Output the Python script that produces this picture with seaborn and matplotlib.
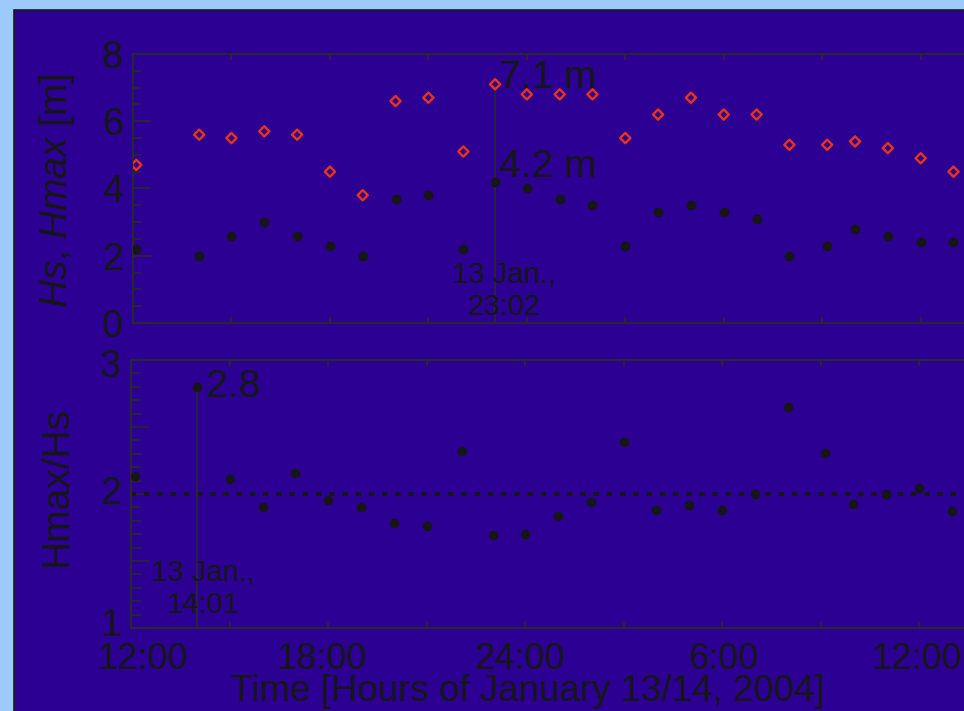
import numpy as np
import pandas as pd
import matplotlib
matplotlib.use("Agg")
import matplotlib.pyplot as plt
import matplotlib.transforms as mtransforms
from matplotlib.patches import Rectangle
from matplotlib.ticker import FixedLocator, MultipleLocator
import seaborn as sns

# Wave records, 13/14 January 2004
obs_time = [
    "2004-01-13 12:06", "2004-01-13 14:01", "2004-01-13 15:00", "2004-01-13 16:00",
    "2004-01-13 17:00", "2004-01-13 18:00", "2004-01-13 19:00", "2004-01-13 20:00",
    "2004-01-13 21:00", "2004-01-13 22:04", "2004-01-13 23:02", "2004-01-14 00:00",
    "2004-01-14 01:00", "2004-01-14 02:00", "2004-01-14 03:00", "2004-01-14 04:00",
    "2004-01-14 05:00", "2004-01-14 06:00", "2004-01-14 07:00", "2004-01-14 08:00",
    "2004-01-14 09:09", "2004-01-14 10:00", "2004-01-14 11:00", "2004-01-14 12:00",
    "2004-01-14 13:00",
]
hs = [2.2, 2.0, 2.6, 3.0, 2.6, 2.3, 2.0, 3.7, 3.8, 2.2, 4.2, 4.0, 3.7,
      3.5, 2.3, 3.3, 3.5, 3.3, 3.1, 2.0, 2.3, 2.8, 2.6, 2.4, 2.4]
hmax = [4.7, 5.6, 5.5, 5.7, 5.6, 4.5, 3.8, 6.6, 6.7, 5.1, 7.1, 6.8, 6.8,
        6.8, 5.5, 6.2, 6.7, 6.2, 6.2, 5.3, 5.3, 5.4, 5.2, 4.9, 4.5]

x_tick_hours = [12, 18, 24, 30, 36]
x_tick_labels = ["12:00", "18:00", "24:00", "6:00", "12:00"]
ratio_ticks = [1, 1.5, 2, 2.5, 3]
ratio_tick_labels = ["1", "", "2", "", "3"]
ratio_reference = 2.0

# hours counted from midnight of 13 January
t = pd.to_datetime(obs_time)
hours = (t - pd.Timestamp("2004-01-13")) / pd.Timedelta(hours=1)
df = pd.DataFrame({"hours": hours, "hs": hs, "hmax": hmax})
df["ratio"] = df["hmax"] / df["hs"]

i_hmax = int(df["hmax"].idxmax())
i_ratio = int(df["ratio"].idxmax())

BG = "#2b0092"
FRAME = "#9ccbfb"
INK = "#161616"
AXC = "#2a2a2a"
RED = "#ea341a"

sns.set_theme(style="ticks")
plt.rcParams["font.family"] = ["Liberation Sans", "DejaVu Sans"]
plt.rcParams["mathtext.fontset"] = "custom"
plt.rcParams["mathtext.it"] = "Liberation Sans:italic"
plt.rcParams["mathtext.rm"] = "Liberation Sans"

W, H = 964, 711
fig = plt.figure(figsize=(W / 100, H / 100), dpi=100, facecolor=FRAME)
fig.add_artist(Rectangle((14 / W, -0.1), 1.2, (H - 10) / H + 0.1,
                         transform=fig.transFigure, facecolor=BG,
                         edgecolor="#1c1c1c", lw=1.2, zorder=0))

PX_PER_H = 32.82
X0, X1 = 12, 38
TICK_HOURS = list(range(X0, 37, 3))


def axes_box(left, top, bottom):
    right = left + (X1 - X0) * PX_PER_H
    return [left / W, 1 - bottom / H, (right - left) / W, (bottom - top) / H]


def nudge(text, dx_px, dy_px):
    text.set_transform(text.get_transform()
                       + mtransforms.ScaledTranslation(dx_px / 100, dy_px / 100,
                                                       fig.dpi_scale_trans))


ax1 = fig.add_axes(axes_box(133, 54, 323))
ax2 = fig.add_axes(axes_box(131.3, 360, 628))

for ax in (ax1, ax2):
    ax.set_facecolor(BG)
    for sp in ax.spines.values():
        sp.set_color(AXC)
        sp.set_linewidth(1.4)
    ax.set_xlim(X0, X1)
    ax.xaxis.set_major_locator(FixedLocator(TICK_HOURS))
    ax.tick_params(axis="x", which="major", direction="in", top=True, bottom=True,
                   length=4.3, width=1.2, color=AXC, labelcolor=INK,
                   labelsize=26, pad=10)
    ax.tick_params(axis="y", which="both", direction="in", left=True, right=False,
                   width=1.2, color=AXC, labelcolor=INK, labelsize=27, pad=7.5)

# --- upper panel: Hs and Hmax ---
sns.scatterplot(data=df, x="hours", y="hmax", ax=ax1, marker="D", s=27,
                facecolor="none", edgecolor=RED, linewidth=1.7, zorder=3,
                legend=False)
sns.scatterplot(data=df, x="hours", y="hs", ax=ax1, marker="o", s=50,
                color=INK, edgecolor=INK, linewidth=0, zorder=3, legend=False)

t_peak = df["hours"][i_hmax]
ax1.vlines(t_peak, 0, df["hmax"][i_hmax], color=AXC, lw=1.2, zorder=2)
ax1.annotate(f"{df['hmax'][i_hmax]:.1f} m", xy=(t_peak, df["hmax"][i_hmax]),
             xytext=(2.5, -2.7), textcoords="offset points", ha="left",
             va="baseline", fontsize=28, color=INK)
ax1.annotate(f"{df['hs'][i_hmax]:.1f} m", xy=(t_peak, df["hs"][i_hmax]),
             xytext=(3, 3.5), textcoords="offset points", ha="left",
             va="baseline", fontsize=28, color=INK)
ax1.annotate(f"{t[i_hmax].day} Jan.,\n{t[i_hmax]:%H:%M}", xy=(t_peak, 0),
             xycoords=("data", "axes fraction"), xytext=(6, 5.8),
             textcoords="offset points", ha="center", va="baseline",
             multialignment="center", fontsize=21, color=INK)

ax1.set_ylim(0, 8)
ax1.yaxis.set_major_locator(MultipleLocator(2))
ax1.yaxis.set_minor_locator(MultipleLocator(0.5))
ax1.tick_params(axis="y", which="major", length=13)
ax1.tick_params(axis="y", which="minor", length=6)
ax1.tick_params(axis="x", labelbottom=False)
ax1.set_xlabel("")
ax1.set_ylabel(r"$\mathit{Hs}$, $\mathit{Hmax}$ [m]", fontsize=28, color=INK,
               ha="center", va="center")
ax1.yaxis.set_label_coords(57 / W, 1 - 190.5 / H, transform=fig.transFigure)

# --- lower panel: Hmax/Hs ---
ax2.axhline(ratio_reference, color=INK, lw=2.8, ls=(0, (1.3, 2.1)), zorder=2)
sns.scatterplot(data=df, x="hours", y="ratio", ax=ax2, marker="o", s=48,
                color=INK, edgecolor=INK, linewidth=0, zorder=3, legend=False)

ax2.set_ylim(1, 3)
t_r = df["hours"][i_ratio]
ax2.vlines(t_r, 1, df["ratio"][i_ratio], color=AXC, lw=1.2, zorder=2)
ax2.annotate(f"{df['ratio'][i_ratio]:.1f}", xy=(t_r, df["ratio"][i_ratio]),
             xytext=(6, -7.3), textcoords="offset points", ha="left",
             va="baseline", fontsize=28, color=INK)
ax2.annotate(f"{t[i_ratio].day} Jan.,\n{t[i_ratio]:%H:%M}", xy=(t_r, 0),
             xycoords=("data", "axes fraction"), xytext=(4, 10.8),
             textcoords="offset points", ha="center", va="baseline",
             multialignment="center", fontsize=21, color=INK)

ax2.yaxis.set_major_locator(FixedLocator(ratio_ticks))
ax2.set_yticklabels(ratio_tick_labels)
ax2.yaxis.set_minor_locator(MultipleLocator(0.1))
ax2.tick_params(axis="y", which="major", length=13)
ax2.tick_params(axis="y", which="minor", length=7)

tick_text = dict(zip(x_tick_hours, x_tick_labels))
ax2.set_xticklabels([tick_text.get(h, "") for h in TICK_HOURS])

# label nudges, in pixels
x_ticks = ax2.xaxis.get_major_ticks()
for h, dx in zip(x_tick_hours, [10.7, -7.2, -6.2, 0.9, -3.0]):
    nudge(x_ticks[TICK_HOURS.index(h)].label1, dx, 0)
y_ticks = ax2.yaxis.get_major_ticks()
for v, dy in zip([1, 2, 3], [6.5, 4.0, -3.0]):
    nudge(y_ticks[ratio_ticks.index(v)].label1, 0, dy)

ax2.set_ylabel("Hmax/Hs", fontsize=28, color=INK, ha="center", va="center")
ax2.yaxis.set_label_coords(57 / W, 1 - 485.5 / H, transform=fig.transFigure)
ax2.set_xlabel("Time [Hours of January 13/14, 2004]", fontsize=26.5, color=INK,
               ha="center", va="baseline")
ax2.xaxis.set_label_coords(527 / W, 10 / H, transform=fig.transFigure)

fig.savefig("out.png", dpi=100, facecolor=FRAME)
